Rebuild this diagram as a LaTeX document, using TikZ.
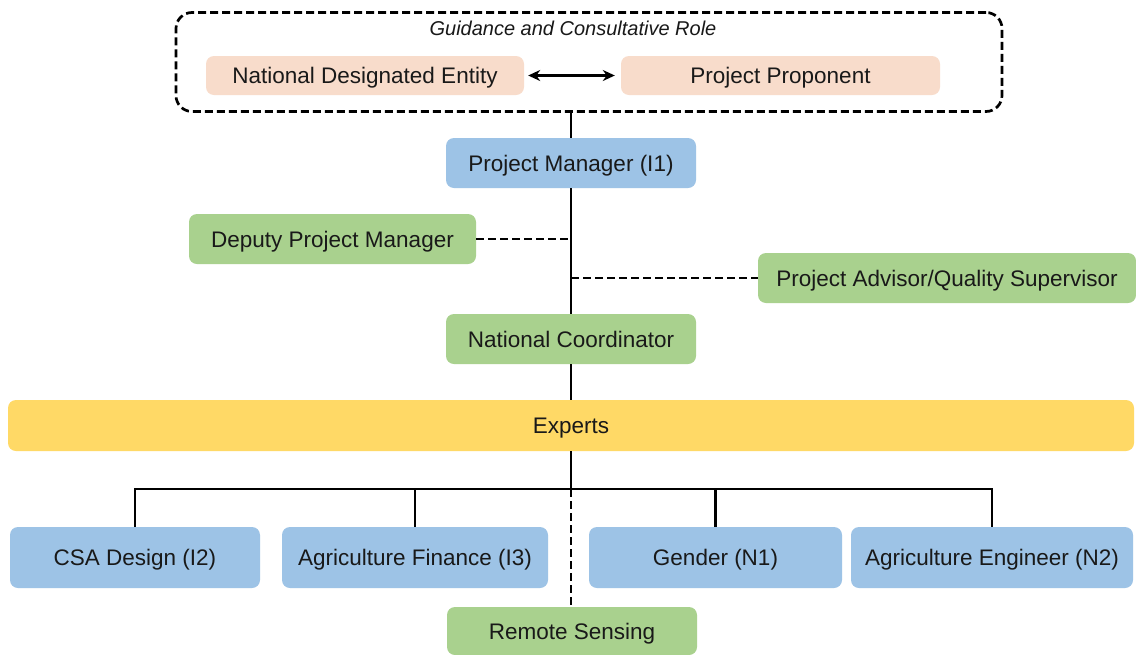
\documentclass[tikz,border=0pt]{standalone}
\usepackage{fontspec}
\setmainfont{Liberation Sans}
\usetikzlibrary{arrows.meta}
\definecolor{peach}{HTML}{F8DCCB}
\definecolor{bluebox}{HTML}{9DC3E6}
\definecolor{greenbox}{HTML}{A9D18E}
\definecolor{yellowbox}{HTML}{FFD966}
\tikzset{
  bx/.style={rounded corners=8pt, inner sep=0pt, font=\fontsize{22.5}{24}\selectfont, text=black!90, text height=16pt, text depth=0pt},
  solidline/.style={line width=2.7pt, black},
  dashline/.style={line width=2.7pt, black, dash pattern=on 8pt off 4pt},
}
\begin{document}
\begin{tikzpicture}[x=1pt,y=-1pt]
\useasboundingbox[fill=white] (0,0) rectangle (1136,654);
% guidance box
\node[draw, line width=2.7pt, dash pattern=on 8pt off 4pt, rounded corners=16pt, minimum width=826pt, minimum height=99pt, inner sep=0pt] (guid) at (589,62) {};
\node[font=\fontsize{20}{22}\selectfont\itshape, text=black!90, text height=14pt, text depth=0pt] (gtitle) at (573,28) {Guidance and Consultative Role};
\node[bx, fill=peach, minimum width=318pt, minimum height=39pt] (nde) at (365,75.5) {National Designated Entity};
\node[bx, fill=peach, minimum width=319pt, minimum height=39pt] (pp) at (780.5,75.5) {Project Proponent};
\draw[line width=2.7pt, {Stealth[length=12pt,width=11pt]}-{Stealth[length=12pt,width=11pt]}] ([xshift=4pt]nde.east) -- ([xshift=-6pt]pp.west);
% main chain
\node[bx, fill=bluebox, minimum width=250pt, minimum height=50pt] (pm) at (571,163) {Project Manager (I1)};
\node[bx, fill=greenbox, minimum width=287pt, minimum height=50pt] (dpm) at (332.5,239) {Deputy Project Manager};
\node[bx, fill=greenbox, minimum width=378pt, minimum height=50pt] (pa) at (947,278) {Project Advisor/Quality Supervisor};
\node[bx, fill=greenbox, minimum width=250pt, minimum height=50pt] (nc) at (571,339) {National Coordinator};
\node[bx, fill=yellowbox, minimum width=1126pt, minimum height=51pt] (ex) at (571,425.5) {Experts};
% experts
\node[bx, fill=bluebox, minimum width=250pt, minimum height=61pt] (csa) at (135,557.5) {CSA Design (I2)};
\node[bx, fill=bluebox, minimum width=266pt, minimum height=61pt] (af) at (415,557.5) {Agriculture Finance (I3)};
\node[bx, fill=bluebox, minimum width=253pt, minimum height=61pt] (gen) at (715.5,557.5) {Gender (N1)};
\node[bx, fill=bluebox, minimum width=282pt, minimum height=61pt] (ae) at (992,557.5) {Agriculture Engineer (N2)};
\node[bx, fill=greenbox, minimum width=250pt, minimum height=48pt] (rs) at (572,631) {Remote Sensing};
% connectors
\coordinate (j1) at (571,239);
\coordinate (j2) at (571,278);
\coordinate (bus) at (571,489);
\draw[solidline] (guid.south -| pm.north) -- (pm.north);
\draw[solidline] (pm.south) -- (nc.north);
\draw[dashline] (dpm.east) -- (j1);
\draw[dashline] (j2) -- (pa.west);
\draw[solidline] (nc.south) -- (ex.north);
\draw[solidline] (ex.south) -- (bus);
\draw[solidline] (csa.north) |- (bus);
\draw[solidline] (ae.north) |- (bus);
\draw[solidline] (af.north) -- (af.north |- bus);
\draw[solidline] (gen.north) -- (gen.north |- bus);
\draw[dashline] (bus) -- (bus |- rs.north);
\end{tikzpicture}
\end{document}
